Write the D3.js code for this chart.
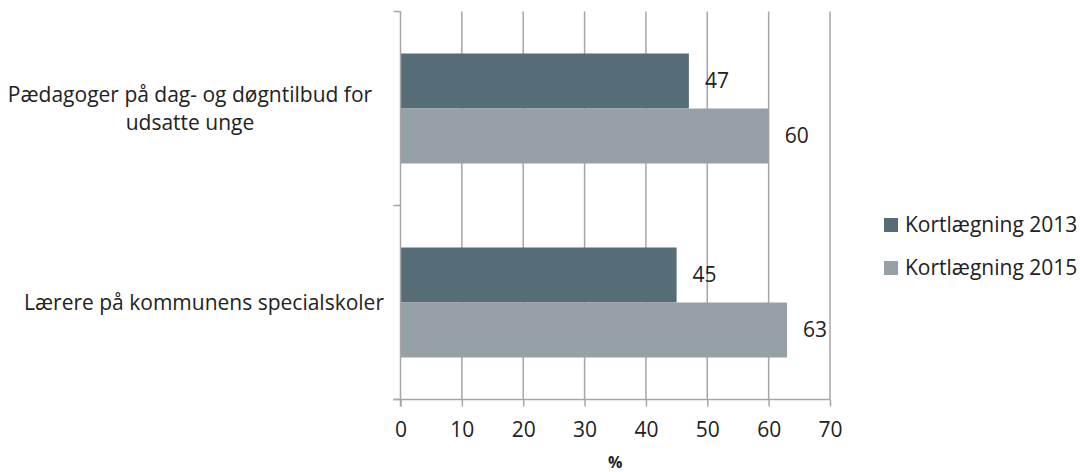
<!DOCTYPE html>
<html>
<head>
<meta charset="utf-8">
<script src="https://cdn.jsdelivr.net/npm/d3@7"></script>
<style>
  html, body { margin: 0; padding: 0; background: #fff; }
  svg { display: block; }
  text { font-family: "Open Sans", "Liberation Sans", sans-serif; fill: #222; }
</style>
</head>
<body>
<svg id="chart" width="1080" height="472"></svg>
<script>
// ---- data ----
const categories = ["Pædagoger på dag- og døgntilbud for udsatte unge", "Lærere på kommunens specialskoler"];
const categoryLines = [["Pædagoger på dag- og døgntilbud for", "udsatte unge"], ["Lærere på kommunens specialskoler"]];
const seriesNames = ["Kortlægning 2013", "Kortlægning 2015"];
const values2013 = [47, 45];
const values2015 = [60, 63];
const xTicks = [0, 10, 20, 30, 40, 50, 60, 70];
const xAxisTitle = "%";

// ---- layout ----
const colors = ["#566c76", "#95a1a7"];
const gridColor = "#a6a6a6";
const plot = { left: 400.5, right: 830, top: 11.5, bottom: 399.5 };
const fontSize = 21;

const svg = d3.select("#chart");

const x = d3.scaleLinear().domain([0, 70]).range([plot.left, plot.right]);
const y = d3.scaleBand().domain(categories).range([plot.top, plot.bottom])
  .paddingInner(0.433).paddingOuter(0.2165);
const ySub = d3.scaleBand().domain(seriesNames).range([0, y.bandwidth()]);

// gridlines
svg.append("g").selectAll("line").data(xTicks.slice(1)).join("line")
  .attr("x1", d => x(d)).attr("x2", d => x(d))
  .attr("y1", plot.top).attr("y2", plot.bottom)
  .attr("stroke", gridColor).attr("stroke-width", 1.5);

// bars
const seriesVals = [values2013, values2015];
const rows = [];
categories.forEach((c, i) => seriesNames.forEach((s, j) => rows.push({ c, s, j, v: seriesVals[j][i] })));

svg.append("g").selectAll("rect").data(rows).join("rect")
  .attr("x", x(0))
  .attr("y", d => y(d.c) + ySub(d.s))
  .attr("width", d => x(d.v) - x(0))
  .attr("height", ySub.bandwidth())
  .attr("fill", d => colors[d.j]);

// value labels
svg.append("g").selectAll("text").data(rows).join("text")
  .attr("x", d => x(d.v) + 16)
  .attr("y", d => y(d.c) + ySub(d.s) + ySub.bandwidth() / 2)
  .attr("dy", "0.35em")
  .attr("font-size", fontSize)
  .text(d => d.v);

// x axis
const xAxis = d3.axisBottom(x).tickValues(xTicks).tickSize(7).tickPadding(16);
const gx = svg.append("g").attr("transform", `translate(0,${plot.bottom})`).call(xAxis);
gx.select(".domain").attr("stroke", gridColor).attr("stroke-width", 1.5)
  .attr("d", `M${plot.left - 7},0H${plot.right}`);
gx.selectAll(".tick line").attr("stroke", gridColor).attr("stroke-width", 1.5);
gx.selectAll(".tick text").attr("font-size", fontSize).attr("font-family", null).attr("fill", "#222");

// y axis line + ticks at band boundaries
const yBounds = [plot.top, (y(categories[0]) + y.bandwidth() + y(categories[1])) / 2, plot.bottom];
svg.append("line").attr("x1", plot.left).attr("x2", plot.left)
  .attr("y1", plot.top).attr("y2", plot.bottom + 7)
  .attr("stroke", gridColor).attr("stroke-width", 1.5);
svg.append("g").selectAll("line").data(yBounds).join("line")
  .attr("x1", plot.left - 7).attr("x2", plot.left)
  .attr("y1", d => d).attr("y2", d => d)
  .attr("stroke", gridColor).attr("stroke-width", 1.5);

// category labels
const labelCenters = [190, 204];
categories.forEach((c, i) => {
  const lines = categoryLines[i];
  const cy = y(c) + y.bandwidth() / 2;
  const lh = 28;
  const t = svg.append("text").attr("text-anchor", "middle").attr("font-size", fontSize);
  lines.forEach((ln, k) => {
    t.append("tspan").attr("x", labelCenters[i])
      .attr("y", cy + (k - (lines.length - 1) / 2) * lh)
      .attr("dy", "0.35em").text(ln);
  });
});

// x axis title
svg.append("text").attr("x", (plot.left + plot.right) / 2).attr("y", 468)
  .attr("text-anchor", "middle").attr("font-size", 16).attr("font-weight", "bold")
  .text(xAxisTitle);

// legend
const lg = svg.append("g").attr("transform", "translate(884,218)");
seriesNames.forEach((s, j) => {
  lg.append("rect").attr("x", 0).attr("y", j * 43).attr("width", 14).attr("height", 14).attr("fill", colors[j]);
  lg.append("text").attr("x", 21).attr("y", j * 43 + 7).attr("dy", "0.35em")
    .attr("font-size", fontSize).text(s);
});
</script>
</body>
</html>
